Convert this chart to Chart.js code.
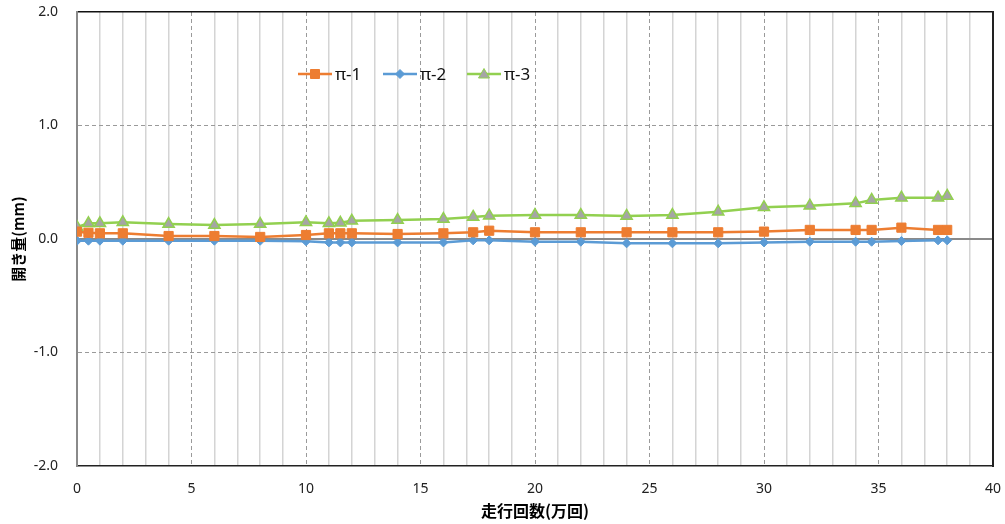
<!DOCTYPE html>
<html>
<head>
<meta charset="utf-8">
<script src="https://cdn.jsdelivr.net/npm/chart.js@4/dist/chart.umd.min.js"></script>
<style>
  html, body { margin: 0; padding: 0; background: #fff; }
  #wrap { width: 1005px; height: 524px; }
</style>
</head>
<body>
<div id="wrap"><canvas id="chart" width="1005" height="524"></canvas></div>
<script>
// 走行回数 (万回)
const runs = [0, 0.5, 1, 2, 4, 6, 8, 10, 11, 11.5, 12, 14, 16, 17.3, 18, 20, 22, 24, 26, 28, 30, 32, 34, 34.7, 36, 37.6, 38];
// 開き量 (mm)
const pi1 = [0.065, 0.055, 0.05, 0.05, 0.026, 0.026, 0.018, 0.035, 0.05, 0.05, 0.05, 0.044, 0.05, 0.059, 0.073, 0.059, 0.059, 0.059, 0.059, 0.059, 0.065, 0.08, 0.08, 0.08, 0.1, 0.08, 0.08];
const pi2 = [-0.015, -0.015, -0.015, -0.015, -0.015, -0.015, -0.015, -0.02, -0.03, -0.03, -0.03, -0.03, -0.03, -0.012, -0.012, -0.024, -0.024, -0.038, -0.038, -0.038, -0.03, -0.024, -0.024, -0.024, -0.018, -0.012, -0.012];
const pi3 = [0.105, 0.138, 0.138, 0.147, 0.132, 0.123, 0.132, 0.147, 0.138, 0.143, 0.16, 0.167, 0.176, 0.194, 0.205, 0.211, 0.211, 0.203, 0.211, 0.24, 0.279, 0.293, 0.314, 0.344, 0.364, 0.364, 0.379];
const seriesNames = ['π-1', 'π-2', 'π-3'];

const xTitle = '走行回数(万回)';
const yTitle = '開き量(mm)';

const tickFont = { family: "'Noto Sans', 'Open Sans', sans-serif", size: 14 };
const cjkFont = "'Noto Sans CJK JP', sans-serif";

function pts(ys) {
    return runs.map((x, i) => ({ x: x, y: ys[i] }));
}

// no extra label padding, so the plot area sits where the original one does
function noPad(s) {
    s.paddingTop = 0;
    s.paddingBottom = 0;
    s.paddingLeft = 0;
    s.paddingRight = 0;
}

// Legend drawn inside the plot area, like the original
const insideLegend = {
    id: 'insideLegend',
    afterDatasetsDraw(chart) {
        const ctx = chart.ctx;
        const starts = [298, 383, 467];
        const y = 74;
        chart.data.datasets.forEach((ds, i) => {
            const x0 = starts[i];
            const cx = x0 + 17;
            ctx.save();
            ctx.strokeStyle = ds.borderColor;
            ctx.lineWidth = 2.5;
            ctx.beginPath();
            ctx.moveTo(x0, y);
            ctx.lineTo(x0 + 34, y);
            ctx.stroke();
            ctx.fillStyle = ds.pointBackgroundColor;
            ctx.strokeStyle = ds.pointBorderColor;
            ctx.lineWidth = 1;
            ctx.beginPath();
            if (ds.pointStyle === 'rect') {
                ctx.rect(cx - 4.5, y - 4.5, 9, 9);
            } else if (ds.pointStyle === 'rectRot') {
                ctx.moveTo(cx, y - 4.5);
                ctx.lineTo(cx + 4.5, y);
                ctx.lineTo(cx, y + 4.5);
                ctx.lineTo(cx - 4.5, y);
                ctx.closePath();
            } else {
                ctx.moveTo(cx, y - 5.5);
                ctx.lineTo(cx + 5.5, y + 4);
                ctx.lineTo(cx - 5.5, y + 4);
                ctx.closePath();
            }
            ctx.fill();
            ctx.stroke();
            ctx.fillStyle = '#111';
            ctx.font = "17px 'Noto Sans', sans-serif";
            ctx.textBaseline = 'middle';
            ctx.fillText(ds.label, x0 + 37, y + 1);
            ctx.restore();
        });
    }
};

new Chart(document.getElementById('chart'), {
    type: 'line',
    data: {
        datasets: [
            {
                label: seriesNames[0],
                data: pts(pi1),
                borderColor: '#ED7D31',
                backgroundColor: '#ED7D31',
                pointBackgroundColor: '#ED7D31',
                pointBorderColor: '#ED7D31',
                pointStyle: 'rect',
                pointRadius: 6.5,
                borderWidth: 2.5,
                pointBorderWidth: 1
            },
            {
                label: seriesNames[1],
                data: pts(pi2),
                borderColor: '#5B9BD5',
                backgroundColor: '#5B9BD5',
                pointBackgroundColor: '#5B9BD5',
                pointBorderColor: '#5B9BD5',
                pointStyle: 'rectRot',
                pointRadius: 4.5,
                borderWidth: 2.5,
                pointBorderWidth: 1
            },
            {
                label: seriesNames[2],
                data: pts(pi3),
                borderColor: '#92D050',
                backgroundColor: '#92D050',
                pointBackgroundColor: '#A5A5A5',
                pointBorderColor: '#92D050',
                pointStyle: 'triangle',
                pointRadius: 6.5,
                borderWidth: 2.5,
                pointBorderWidth: 1.5
            }
        ]
    },
    options: {
        responsive: false,
        animation: false,
        layout: { padding: 0 },
        plugins: {
            legend: { display: false },
            tooltip: { enabled: false }
        },
        scales: {
            x: {
                type: 'linear',
                position: 'bottom',
                min: 0,
                max: 40,
                ticks: { stepSize: 5, padding: 15, color: '#222', font: tickFont, maxRotation: 0 },
                grid: {
                    drawTicks: false,
                    lineWidth: 1,
                    color: (c) => (c.tick && c.tick.value > 0 && c.tick.value < 40) ? '#9a9a9a' : 'rgba(0,0,0,0)'
                },
                border: { display: true, color: '#222', width: 1.5, dash: [4, 3] },
                title: {
                    display: true,
                    text: xTitle,
                    color: '#000',
                    font: { family: cjkFont, size: 16, weight: 'bold' },
                    padding: { top: 4, bottom: 3 }
                },
                afterFit: (s) => { s.height = 58; noPad(s); }
            },
            xMinor: {
                type: 'linear',
                position: 'bottom',
                min: 0,
                max: 40,
                ticks: { display: false, stepSize: 1 },
                grid: {
                    drawTicks: false,
                    lineWidth: 1.5,
                    color: (c) => (c.tick && c.tick.value % 5 !== 0) ? '#d4d4d4' : 'rgba(0,0,0,0)'
                },
                border: { display: false },
                afterFit: (s) => { s.height = 0; noPad(s); }
            },
            xTop: {
                type: 'linear',
                position: 'top',
                min: 0,
                max: 40,
                ticks: { display: false },
                grid: { display: false, drawTicks: false },
                border: { display: true, color: '#111', width: 1.5 },
                afterFit: (s) => { s.height = 12; noPad(s); }
            },
            y: {
                type: 'linear',
                position: 'left',
                min: -2,
                max: 2,
                ticks: {
                    stepSize: 1,
                    padding: 19,
                    color: '#222',
                    font: tickFont,
                    callback: (v) => v.toFixed(1)
                },
                grid: {
                    drawTicks: false,
                    lineWidth: 1,
                    color: (c) => (c.tick && Math.abs(c.tick.value) === 1) ? '#9a9a9a' : 'rgba(0,0,0,0)'
                },
                border: { display: true, color: '#8a8a8a', width: 2, dash: [4, 3] },
                title: {
                    display: true,
                    text: yTitle,
                    color: '#000',
                    font: { family: cjkFont, size: 15, weight: 'bold' },
                    padding: { top: 9, bottom: 9 }
                },
                afterFit: (s) => { s.width = 77; noPad(s); }
            },
            yZero: {
                type: 'linear',
                position: 'left',
                min: -2,
                max: 2,
                ticks: { display: false, stepSize: 2 },
                grid: {
                    drawTicks: false,
                    lineWidth: 2,
                    color: (c) => (c.tick && c.tick.value === 0) ? '#8a8a8a' : 'rgba(0,0,0,0)'
                },
                border: { display: false },
                afterFit: (s) => { s.width = 0; noPad(s); }
            },
            yRight: {
                type: 'linear',
                position: 'right',
                min: -2,
                max: 2,
                ticks: { display: false },
                grid: { display: false, drawTicks: false },
                border: { display: true, color: '#222', width: 2 },
                afterFit: (s) => { s.width = 12; noPad(s); }
            }
        }
    },
    plugins: [insideLegend]
});
</script>
</body>
</html>
